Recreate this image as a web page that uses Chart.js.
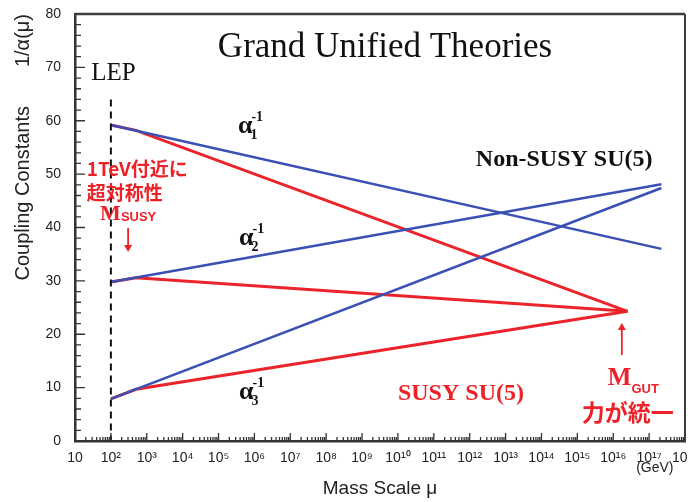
<!DOCTYPE html>
<html><head><meta charset="utf-8">
<script src="https://cdn.jsdelivr.net/npm/chart.js@4.4.1/dist/chart.umd.min.js"></script>
<style>html,body{margin:0;padding:0;background:#fff}canvas{display:block}</style>
</head><body>
<canvas id="c" width="688" height="502"></canvas>
<script>
// ---- data ----
const tickExponents = [1,2,3,4,5,6,7,8,9,10,11,12,13,14,15,16,17,18];
const xTickLabels = ['10','10²','10³','10⁴','10⁵','10⁶','10⁷','10⁸','10⁹','10¹⁰','10¹¹','10¹²','10¹³','10¹⁴','10¹⁵','10¹⁶','10¹⁷','10¹⁸'];
const yTickValues = [0,10,20,30,40,50,60,70,80];

// Non-SUSY SU(5) running couplings (GeV, 1/alpha)
const nonSusyMass = [1e2, 2.2e17];
const nonSusyInvAlpha1 = [59.2, 36.0];
const nonSusyInvAlpha2 = [29.8, 48.1];
const nonSusyInvAlpha3 = [7.9, 47.4];

// SUSY SU(5) running couplings (GeV, 1/alpha)
const susyMass = [1e2, 5e2, 2.5e16];
const susyInvAlpha1 = [59.2, 58.2, 24.3];
const susyInvAlpha2 = [29.8, 30.6, 24.3];
const susyInvAlpha3 = [7.9, 9.7, 24.3];

// LEP marker
const lepMass = [1e2, 1e2];
const lepRange = [64, 0];

const BLUE = 'rgb(58,80,180)';
const RED = 'rgb(234,36,42)';
const TXTRED = 'rgb(236,34,40)';

const pts = (xs, ys) => xs.map((v, i) => ({x: v, y: ys[i]}));

const blueDs = (ys) => ({data: pts(nonSusyMass, ys), borderColor: BLUE, borderWidth: 2.5, pointRadius: 0, tension: 0, fill: false});
const redDs = (ys) => ({data: pts(susyMass, ys), borderColor: RED, borderWidth: 3, pointRadius: 0, tension: 0, fill: false});

const tickPlugin = {
  id: 'innerTicks',
  afterDraw(chart) {
    const {ctx, chartArea: a, scales: {x, y}} = chart;
    ctx.save();
    ctx.strokeStyle = '#333';
    ctx.lineWidth = 1.3;
    ctx.beginPath();
    for (let e = 1; e < 18; e++) {
      for (let m = 1; m < 10; m++) {
        const px = x.getPixelForValue(m * Math.pow(10, e));
        const len = m === 1 ? 8 : 4;
        ctx.moveTo(px, a.bottom); ctx.lineTo(px, a.bottom - len);
      }
    }
    for (let v = 0; v <= 80; v += 2) {
      const py = y.getPixelForValue(v);
      const len = v % 10 === 0 ? 10 : 6;
      ctx.moveTo(a.left, py); ctx.lineTo(a.left + len, py);
    }
    ctx.stroke();
    // frame top/right
    ctx.strokeStyle = '#3a3f3c';
    ctx.lineWidth = 2.5;
    ctx.beginPath();
    ctx.moveTo(a.left, a.top); ctx.lineTo(a.right, a.top);
    ctx.stroke();
    ctx.lineWidth = 2;
    ctx.beginPath();
    ctx.moveTo(a.right, a.top); ctx.lineTo(a.right, a.bottom);
    ctx.stroke();
    ctx.restore();
  }
};

const annotPlugin = {
  id: 'annot',
  afterDraw(chart) {
    const {ctx, scales: {x, y}} = chart;
    const P = (e, v) => [x.getPixelForValue(Math.pow(10, e)), y.getPixelForValue(v)];
    const text = (s, e, v, font, color, align = 'left', base = 'alphabetic', dx = 0, dy = 0) => {
      const [px, py] = P(e, v);
      ctx.font = font; ctx.fillStyle = color; ctx.textAlign = align; ctx.textBaseline = base;
      ctx.fillText(s, px + dx, py + dy);
      return ctx.measureText(s).width;
    };
    const arrow = (e, v0, v1, color) => {
      const [px, p0] = P(e, v0);
      const [, p1] = P(e, v1);
      const dir = p1 > p0 ? 1 : -1;
      ctx.strokeStyle = color; ctx.fillStyle = color; ctx.lineWidth = 1.8;
      ctx.beginPath(); ctx.moveTo(px, p0); ctx.lineTo(px, p1 - dir * 5); ctx.stroke();
      ctx.beginPath(); ctx.moveTo(px, p1); ctx.lineTo(px - 4, p1 - dir * 7); ctx.lineTo(px + 4, p1 - dir * 7); ctx.closePath(); ctx.fill();
    };
    ctx.save();
    const serif = "'Liberation Serif', 'Times New Roman', serif";
    const sans = "'Liberation Sans', Arial, sans-serif";
    const cjk = "'Noto Sans CJK JP', sans-serif";
    text('Grand Unified Theories', 9.64, 71.9, `35px ${serif}`, '#111', 'center');
    text('LEP', 1.45, 67.6, `25px ${serif}`, '#111');
    const alphaLabel = (e, v, sub) => {
      const w = text('α', e, v, `bold 26px ${serif}`, '#111');
      text('-1', e, v, `bold 14px ${serif}`, '#111', 'left', 'alphabetic', w - 1, -12);
      text(sub, e, v, `bold 14px ${serif}`, '#111', 'left', 'alphabetic', w - 2, 6);
    };
    alphaLabel(5.54, 57.7, '1');
    alphaLabel(5.57, 36.7, '2');
    alphaLabel(5.57, 7.9, '3');
    text('Non-SUSY SU(5)', 12.17, 51.5, `bold 24px ${serif}`, '#111');
    text('SUSY SU(5)', 10.0, 7.7, `bold 24px ${serif}`, TXTRED);
    // M_SUSY annotation
    text('1TeV付近に', 1.33, 50.96, `bold 19px ${cjk}`, TXTRED, 'left', 'middle');
    text('超対称性', 1.33, 46.46, `bold 19px ${cjk}`, TXTRED, 'left', 'middle');
    const wm = text('M', 1.70, 42.4, `bold 22px ${serif}`, TXTRED, 'left', 'middle');
    text('SUSY', 1.70, 41.8, `bold 13px ${sans}`, TXTRED, 'left', 'middle', wm);
    arrow(2.48, 39.9, 35.4, TXTRED);
    // M_GUT annotation
    const wg = text('M', 15.85, 11.7, `bold 25px ${serif}`, TXTRED, 'left', 'middle');
    text('GUT', 15.85, 9.6, `bold 13px ${sans}`, TXTRED, 'left', 'middle', wg);
    text('力が統一', 15.12, 5.34, `bold 23px ${cjk}`, TXTRED, 'left', 'middle');
    arrow(16.24, 16.1, 22.1, TXTRED);
    // unit
    text('(GeV)', 17.16, -5.1, `14px ${sans}`, '#222', 'center', 'middle');
    ctx.restore();
  }
};

new Chart(document.getElementById('c'), {
  type: 'line',
  data: {
    datasets: [
      {data: pts(lepMass, lepRange), borderColor: '#111', borderWidth: 2, borderDash: [7, 5], pointRadius: 0, fill: false},
      blueDs(nonSusyInvAlpha1), blueDs(nonSusyInvAlpha2), blueDs(nonSusyInvAlpha3),
      redDs(susyInvAlpha1), redDs(susyInvAlpha2), redDs(susyInvAlpha3)
    ]
  },
  options: {
    responsive: false,
    animation: false,
    devicePixelRatio: 1,
    layout: {padding: {top: 14, right: 3, left: 0, bottom: 0}},
    plugins: {legend: {display: false}, tooltip: {enabled: false}},
    scales: {
      x: {
        type: 'logarithmic', min: 10, max: 1e18, position: 'bottom',
        afterBuildTicks: (s) => { s.ticks = tickExponents.map(e => ({value: Math.pow(10, e), major: true})); },
        afterFit: (s) => { s.height = 61; s.paddingLeft = 0; s.paddingRight = 0; },
        ticks: {
          autoSkip: false, maxRotation: 0, padding: 9, color: '#222',
          font: {family: "'Liberation Sans', Arial, sans-serif", size: 14},
          callback: (v, i) => xTickLabels[i]
        },
        grid: {drawOnChartArea: false, drawTicks: false},
        border: {display: true, color: '#333', width: 2.5},
        title: {display: true, text: 'Mass Scale μ', color: '#222', font: {family: "'Liberation Sans', Arial, sans-serif", size: 19}, padding: {top: 0, bottom: 2}}
      },
      y: {
        type: 'linear', min: 0, max: 80,
        afterBuildTicks: (s) => { s.ticks = yTickValues.map(v => ({value: v})); },
        afterFit: (s) => { s.width = 75; s.paddingTop = 0; s.paddingBottom = 0; },
        ticks: {padding: 14, color: '#222', font: {family: "'Liberation Sans', Arial, sans-serif", size: 14}},
        grid: {drawOnChartArea: false, drawTicks: false},
        border: {display: true, color: '#333', width: 2.5},
        title: {display: true, text: 'Coupling Constants       1/α(μ)', align: 'end', color: '#222', font: {family: "'Liberation Sans', Arial, sans-serif", size: 20}, padding: {top: 11, bottom: 0}}
      }
    }
  },
  plugins: [tickPlugin, annotPlugin]
});
</script>
</body></html>
